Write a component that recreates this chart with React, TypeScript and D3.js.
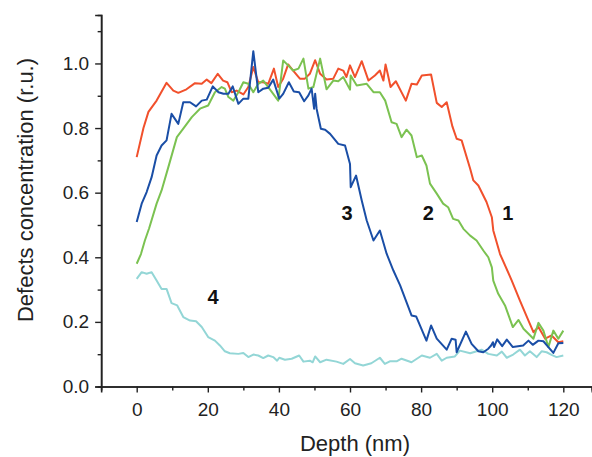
import React, { useEffect, useRef } from "react";
import * as d3 from "d3";

// depth (nm), concentration (r.u.)
const series1: [number, number][] = [
  [0, 0.71], [1.9, 0.8], [3.3, 0.85], [5.6, 0.885], [8.4, 0.94], [10.3, 0.916], [11.7, 0.909],
  [14, 0.92], [16.4, 0.939], [18.3, 0.937], [19.7, 0.95], [21, 0.939], [22.8, 0.968], [24.3, 0.947],
  [25.5, 0.942], [26.7, 0.911], [28.1, 0.916], [30, 0.904], [31.4, 0.927], [32.8, 0.989], [34.2, 0.942],
  [35.6, 0.942], [37, 0.937], [38.6, 0.984], [39.8, 0.927], [41.2, 0.953], [42.6, 0.997], [44, 0.978],
  [45.9, 0.953], [47.3, 0.953], [48.7, 0.968], [50.2, 1.01], [51.6, 0.968], [53.4, 0.95], [55.3, 0.953],
  [56.7, 0.984], [58.1, 0.978], [59, 0.958], [60, 0.994], [61.4, 0.958], [63.3, 1.007], [65.2, 0.947],
  [67, 0.963], [68.4, 0.978], [69.4, 0.947], [70, 0.997], [70.8, 0.958], [71.4, 0.927], [72.9, 0.945],
  [75.7, 0.885], [77.3, 0.937], [78.8, 0.935], [80.2, 0.963], [82.8, 0.966], [84.4, 0.878], [85.8, 0.865],
  [87.2, 0.88], [88.8, 0.805], [90, 0.767], [91.4, 0.762], [93.8, 0.674], [94.7, 0.638], [96.1, 0.622],
  [98.4, 0.571], [99.9, 0.524], [100.3, 0.483], [102.2, 0.41], [105.5, 0.328], [107.8, 0.266],
  [110.2, 0.204], [111.6, 0.168], [113, 0.184], [114.9, 0.148], [116.7, 0.158], [118.6, 0.137], [120, 0.14],
];

const series2: [number, number][] = [
  [0, 0.38], [1.2, 0.41], [2.3, 0.452], [3.5, 0.49], [5.6, 0.566], [7, 0.607], [8.9, 0.679], [11.3, 0.772],
  [13.1, 0.798], [15.5, 0.834], [17.8, 0.86], [20.1, 0.87], [22, 0.911], [23.9, 0.927], [24.8, 0.922],
  [25.8, 0.896], [27.2, 0.885], [28.6, 0.911], [30, 0.942], [31.4, 0.937], [32.8, 0.911], [34.2, 0.937],
  [35.6, 0.947], [37, 0.927], [38.4, 0.906], [39.8, 0.885], [41.2, 1.009], [42.6, 0.994], [44, 0.978],
  [45.5, 0.984], [46.9, 1.015], [48.3, 0.922], [49.7, 0.927], [51.6, 1.015], [53.4, 0.92], [55.3, 0.947],
  [56.7, 0.945], [58.1, 0.958], [60, 0.919], [60.2, 0.963], [61.9, 0.932], [64.7, 0.937], [66.6, 0.911],
  [68.4, 0.911], [69.9, 0.885], [71.7, 0.818], [73.1, 0.813], [74.5, 0.772], [75.9, 0.795], [77.3, 0.777],
  [78.8, 0.71], [80.2, 0.715], [81.5, 0.684], [82.5, 0.628], [84.4, 0.597], [86.2, 0.566], [87.6, 0.555],
  [89, 0.519], [90.5, 0.514], [91.9, 0.488], [93.8, 0.467], [95.6, 0.452], [97.5, 0.421], [98.9, 0.4],
  [99.9, 0.369], [100.3, 0.328], [101.7, 0.287], [103.6, 0.251], [105.8, 0.184], [107.4, 0.206],
  [108.8, 0.179], [111.6, 0.148], [113, 0.197], [114.4, 0.173], [115.8, 0.122], [117.2, 0.173],
  [118.6, 0.148], [120, 0.173],
];

const series3: [number, number][] = [
  [0, 0.509], [1.4, 0.566], [2.8, 0.602], [4.2, 0.648], [5.6, 0.715], [7, 0.746], [8.4, 0.762], [9.8, 0.844],
  [11.7, 0.813], [13.1, 0.88], [15, 0.88], [16.7, 0.867], [18.3, 0.885], [19.7, 0.888], [21.4, 0.929],
  [23, 0.911], [24.4, 0.906], [25.8, 0.906], [27, 0.929], [28.6, 0.875], [30, 0.891], [31.4, 0.891],
  [32.8, 1.038], [34.2, 0.911], [35.6, 0.922], [37, 0.925], [38.4, 0.95], [40.1, 0.891], [41.2, 0.906],
  [42.8, 0.942], [44.2, 0.913], [45.7, 0.911], [47.1, 0.883], [48.3, 0.901], [49.2, 0.922], [49.9, 0.86],
  [50.2, 0.906], [50.6, 0.86], [51.8, 0.798], [53, 0.795], [54.4, 0.782], [56.7, 0.751], [58.6, 0.746],
  [60, 0.689], [60.2, 0.617], [61.7, 0.653], [63.3, 0.576], [64.7, 0.514], [66.6, 0.452], [68.4, 0.483],
  [70.3, 0.411], [72.2, 0.359], [74.1, 0.313], [77.3, 0.22], [78.6, 0.217], [81.5, 0.142], [82.8, 0.189],
  [84.4, 0.148], [87.2, 0.114], [88.6, 0.148], [89.7, 0.145], [90, 0.106], [92.6, 0.17], [94.2, 0.132],
  [96.1, 0.109], [97.5, 0.106], [98.9, 0.117], [99.7, 0.127], [100.2, 0.137], [100.5, 0.122], [101.4, 0.146],
  [102.8, 0.125], [104.1, 0.145], [105.8, 0.122], [108.7, 0.127], [110.2, 0.142], [111.4, 0.129],
  [113, 0.142], [114.4, 0.14], [115.8, 0.122], [117.2, 0.104], [118.6, 0.134], [120, 0.135],
];

const series4: [number, number][] = [
  [0, 0.333], [1.4, 0.354], [2.8, 0.349], [4.2, 0.354], [5.6, 0.328], [7, 0.302], [8.4, 0.302], [9.8, 0.258],
  [11.4, 0.251], [13.1, 0.215], [15, 0.204], [16.7, 0.202], [18.3, 0.184], [20.1, 0.153], [22, 0.142],
  [23.4, 0.127], [24.8, 0.109], [26.2, 0.103], [28.6, 0.101], [30, 0.104], [31.4, 0.091], [32.8, 0.099],
  [34.2, 0.096], [35.6, 0.088], [37, 0.096], [38.4, 0.091], [39.5, 0.08], [40.1, 0.089], [41.7, 0.083],
  [43.6, 0.086], [45.7, 0.096], [46.9, 0.077], [48.7, 0.08], [49.5, 0.075], [50.2, 0.093], [51.6, 0.075],
  [53.4, 0.083], [56.2, 0.077], [58.1, 0.07], [60, 0.085], [61.4, 0.072], [63.7, 0.065], [66, 0.072],
  [68.4, 0.089], [69.8, 0.07], [71.2, 0.078], [73.1, 0.078], [74.5, 0.086], [77.3, 0.075], [80.2, 0.096],
  [82.5, 0.089], [84.4, 0.101], [85.8, 0.08], [87.2, 0.089], [89.5, 0.093], [90.9, 0.111], [93.8, 0.103],
  [97, 0.114], [98.9, 0.101], [101.3, 0.096], [102.7, 0.108], [104.1, 0.089], [105.9, 0.099],
  [107.8, 0.114], [109.2, 0.096], [110.6, 0.109], [112.5, 0.091], [113.9, 0.109], [115.3, 0.106],
  [116.7, 0.098], [118.1, 0.091], [120, 0.096],
];

// curve labels: text, depth, value where the label sits
const curveLabels: [string, number, number][] = [
  ["1", 104.4, 0.537],
  ["2", 82, 0.537],
  ["3", 59.2, 0.537],
  ["4", 21.5, 0.277],
];

const xMajorTicks = [0, 20, 40, 60, 80, 100, 120];
const xMinorTicks = [10, 30, 50, 70, 90, 110];
const yMajorTicks = [0, 0.2, 0.4, 0.6, 0.8, 1.0];
const yMinorTicks = [0.1, 0.3, 0.5, 0.7, 0.9, 1.1];

const FONT = "'Liberation Sans', Arial, sans-serif";

const App = () => {
  const ref = useRef<SVGSVGElement>(null);

  useEffect(() => {
    const svg = d3.select(ref.current);
    svg.selectAll("*").remove();

    const x = d3.scaleLinear().domain([-10, 128]).range([101.15, 591.75]);
    const y = d3.scaleLinear().domain([0, 1.15]).range([386.5, 15]);

    const series = [
      { data: series4, color: "#93d6d6" },
      { data: series1, color: "#f1502c" },
      { data: series2, color: "#7bc251" },
      { data: series3, color: "#1a4ea6" },
    ];

    const line = d3
      .line<[number, number]>()
      .x((d) => x(d[0]))
      .y((d) => y(d[1]));

    svg
      .selectAll("path.series")
      .data(series)
      .enter()
      .append("path")
      .attr("class", "series")
      .attr("d", (s) => line(s.data))
      .attr("fill", "none")
      .attr("stroke", (s) => s.color)
      .attr("stroke-width", 2)
      .attr("stroke-linejoin", "round");

    // x axis
    const gx = svg.append("g").attr("transform", `translate(0,${y(0)})`);
    gx.call(
      d3.axisBottom(x).tickValues(xMajorTicks).tickSize(6).tickPadding(10).tickFormat(d3.format("d"))
    );
    gx.append("g").call(
      d3.axisBottom(x).tickValues(xMinorTicks).tickSize(4).tickFormat(() => "")
    );

    // y axis
    const gy = svg.append("g").attr("transform", `translate(${x(-10)},0)`);
    gy.call(
      d3.axisLeft(y).tickValues(yMajorTicks).tickSize(6).tickPadding(6).tickFormat(d3.format(".1f"))
    );
    gy.append("g").call(
      d3.axisLeft(y).tickValues(yMinorTicks).tickSize(3.5).tickFormat(() => "")
    );

    svg.selectAll(".domain").attr("stroke", "#222").attr("stroke-width", 1.6);
    svg.selectAll(".tick line").attr("stroke", "#222").attr("stroke-width", 1.4);
    svg
      .selectAll(".tick text")
      .attr("font-family", FONT)
      .attr("font-size", 19)
      .attr("fill", "#222");

    // axis titles
    svg
      .append("text")
      .attr("x", 355)
      .attr("y", 451)
      .attr("text-anchor", "middle")
      .attr("font-family", FONT)
      .attr("font-size", 22)
      .attr("fill", "#222")
      .text("Depth (nm)");

    svg
      .append("text")
      .attr("transform", `translate(33,190) rotate(-90)`)
      .attr("text-anchor", "middle")
      .attr("font-family", FONT)
      .attr("font-size", 22)
      .attr("fill", "#222")
      .text("Defects concentration (r.u.)");

    svg
      .selectAll("text.curve")
      .data(curveLabels)
      .enter()
      .append("text")
      .attr("class", "curve")
      .attr("x", (d) => x(d[1]))
      .attr("y", (d) => y(d[2]))
      .attr("dy", "0.36em")
      .attr("text-anchor", "middle")
      .attr("font-family", FONT)
      .attr("font-weight", "bold")
      .attr("font-size", 20)
      .attr("fill", "#111")
      .text((d) => d[0]);
  }, []);

  return (
    <svg
      ref={ref}
      width={592}
      height={457}
      style={{ position: "absolute", left: 0, top: 0, background: "#fff" }}
    />
  );
};

export default App;
